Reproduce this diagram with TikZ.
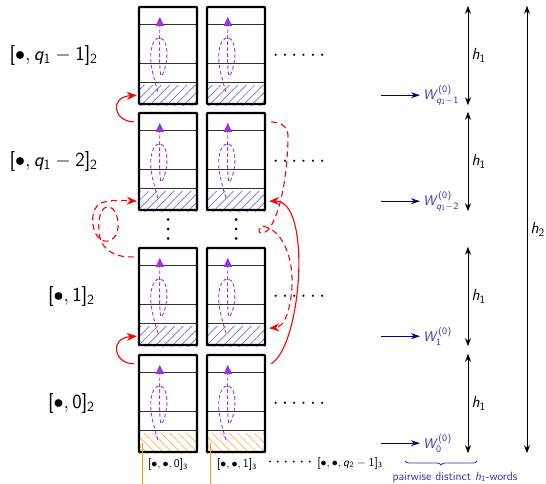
\RequirePackage{fix-cm}
\documentclass[tikz,border=0pt]{standalone}
\usetikzlibrary{arrows.meta,patterns.meta,decorations.pathreplacing,backgrounds,calc}
\DeclareSymbolFont{operators}{OT1}{cmss}{m}{n}
\DeclareMathAlphabet{\mathsfit}{OT1}{cmss}{m}{sl}
\definecolor{hatchblue}{RGB}{110,110,215}
\definecolor{hatchorange}{RGB}{255,175,90}
\definecolor{lineorange}{RGB}{255,150,20}
\definecolor{loopviolet}{RGB}{155,50,235}
\definecolor{warrow}{RGB}{0,0,140}
\definecolor{wtext}{RGB}{50,50,175}
\tikzset{
  cell/.style={draw,line width=2.4pt,minimum width=58pt,minimum height=97pt,inner sep=0pt,rounded corners=0.8pt},
  divider/.style={line width=1pt,black!80},
  bluehatch/.style={pattern={Lines[angle=45,distance=6pt,line width=0.7pt]},pattern color=hatchblue},
  orangehatch/.style={pattern={Lines[angle=-45,distance=6pt,line width=0.7pt]},pattern color=hatchorange},
  redarr/.style={red,line width=1.1pt,-{Stealth[length=10pt,width=8pt]}},
  reddash/.style={redarr,dash pattern=on 6pt off 4pt},
  harr/.style={line width=1pt,{Stealth[length=8pt,width=6pt]}-{Stealth[length=8pt,width=6pt]}},
  warr/.style={warrow,line width=1.2pt,-{Stealth[length=9pt,width=6pt]}},
  rowlab/.style={anchor=east,font=\fontsize{20}{24}\selectfont,inner sep=0pt},
  botlab/.style={font=\fontsize{12}{14}\selectfont,inner sep=0pt},
  wlab/.style={anchor=west,text=wtext,font=\fontsize{14}{16}\selectfont,inner sep=3pt},
  hlab/.style={midway,anchor=west,font=\fontsize{16}{18}\selectfont,inner sep=3pt},
  rowdots/.style={font=\fontsize{21}{25}\selectfont,inner sep=0pt},
  vdot/.style={fill=black},
  orangeline/.style={lineorange,line width=1.1pt},
  loopmark/.pic={\draw[loopviolet,line width=0.9pt,dash pattern=on 3.5pt off 2.5pt,-{Triangle[length=9pt,width=8pt]}]
    (20,86) .. controls (17,75) and (12,60) .. (13,48)
    .. controls (14,36) and (18,32) .. (22,32)
    .. controls (27,32) and (30,42) .. (29,52)
    .. controls (28,62) and (25,70) .. (23,70)
    .. controls (21,60) and (22,30) .. (22,11);}
}
\begin{document}
\begin{tikzpicture}[x=1pt,y=-1pt]
\useasboundingbox (0,0) rectangle (546,484);
% boxes
\foreach \c/\x in {A/168,B/236}{
  \foreach \r/\y in {1/55.5,2/161.5,3/296.5,4/403.5}{
    \node[cell] (\c\r) at (\x,\y) {};
  }
}
\begin{scope}[on background layer]
  \foreach \n in {A1,A2,A3,B1,B2,B3}
    \fill[bluehatch] ([shift={(0,-20)}]\n.south west) rectangle (\n.south east);
  \foreach \n in {A4,B4}
    \fill[orangehatch] ([shift={(0,-20)}]\n.south west) rectangle (\n.south east);
  \foreach \n in {A1,A2,A3,A4,B1,B2,B3,B4}{
    \foreach \d in {19,58,77}
      \draw[divider] ([shift={(0,\d)}]\n.north west) -- ([shift={(0,\d)}]\n.north east);
  }
\end{scope}
\foreach \n in {A1,A2,A3,A4,B1,B2,B3,B4}
  \pic at (\n.north west) {loopmark};
% row labels
\node[rowlab] (L1) at ([xshift=-40pt]A1.west) {$[\bullet, \mathsfit{q}_1 - 1]_2$};
\node[rowlab] (L2) at ([xshift=-40pt]A2.west) {$[\bullet, \mathsfit{q}_1 - 2]_2$};
\node[rowlab] (L3) at ([xshift=-43pt]A3.west) {$[\bullet, 1]_2$};
\node[rowlab] (L4) at ([xshift=-43pt]A4.west) {$[\bullet, 0]_2$};
% dots
\foreach \r in {1,2,3,4}
  \node[rowdots] (D\r) at ([xshift=63pt]B\r.center) {$\cdots\cdots$};
\coordinate (V1) at ($(A2.south)!0.5!(A3.north)$);
\coordinate (V2) at ($(B2.south)!0.5!(B3.north)$);
\foreach \v in {V1,V2}
  \foreach \d in {-9.5,0,9.5}
    \fill[vdot] ([shift={(0,\d)}]\v) circle[radius=1.5pt];
% bottom labels
\node[botlab] (P0) at ([shift={(0,11)}]A4.south) {$[\bullet,\bullet,0]_3$};
\node[botlab] (P1) at ([shift={(1,11)}]B4.south) {$[\bullet,\bullet,1]_3$};
\node[font=\fontsize{18}{20}\selectfont,inner sep=0pt] (PD) at (290,462) {$\cdots\cdots$};
\node[botlab] (Pq) at (350,463) {$[\bullet,\bullet,\mathsfit{q}_2-1]_3$};
% orange lines
\coordinate (bottomedge) at (0,488);
\coordinate (o1) at ([shift={(5,-10)}]A4.south west);
\coordinate (o2) at ([shift={(5,-10)}]B4.south west);
\draw[orangeline] (o1) -- (o1 |- bottomedge);
\draw[orangeline] (o2) -- (o2 |- bottomedge);
% red connectors
\draw[redarr] ([shift={(-4,10)}]A4.north west) .. controls +(-20,0) and +(-28,2) .. ([shift={(-1,-10)}]A3.south west);
\draw[redarr] ([shift={(-4,10)}]A2.north west) .. controls +(-20,0) and +(-28,2) .. ([shift={(-1,-10)}]A1.south west);
\draw[reddash] ([shift={(-4,10)}]A3.north west)
  .. controls (118,258) and (106,252) .. (101,241)
  .. controls (97,230) and (98,208) .. (107,207)
  .. controls (115,206) and (119,218) .. (118,228)
  .. controls (117,240) and (106,245) .. (99,238)
  .. controls (92,232) and (90,214) .. (97,206)
  .. controls (103,200) and (115,200) .. ([shift={(-1,-10)}]A2.south west);
\draw[redarr] ([shift={(5,10)}]B4.north east) .. controls (302,345) and (312,200) .. ([shift={(3,-10)}]B2.south east);
\draw[reddash] ([shift={(5,10)}]B2.north east)
  .. controls (283,123) and (289,127) .. (288,140)
  .. controls (287,170) and (283,205) .. (271,226)
  .. controls (267,233) and (259,236) .. (259,230)
  .. controls (259,224) and (268,226) .. (276,233)
  .. controls (286,243) and (293,262) .. (292,285)
  .. controls (291,308) and (285,327) .. ([shift={(3,-18)}]B3.south east);
% W arrows
\coordinate (wx) at (381,0);
\coordinate (wt) at (420,0);
\foreach \r in {1,2,3,4}
  \coordinate (w\r) at ([yshift=10pt]A\r.south);
\node[wlab] (W1) at (wt |- w1) {$\mathsfit{W}^{(0)}_{\mathsfit{q}_1-1}$};
\node[wlab] (W2) at (wt |- w2) {$\mathsfit{W}^{(0)}_{\mathsfit{q}_1-2}$};
\node[wlab] (W3) at (wt |- w3) {$\mathsfit{W}^{(0)}_{1}$};
\node[wlab] (W4) at (wt |- w4) {$\mathsfit{W}^{(0)}_{0}$};
\foreach \r in {1,2,3,4}
  \draw[warr] (wx |- w\r) -- (W\r.west);
% h arrows
\coordinate (hx) at (468,0);
\coordinate (hx2) at (527,0);
\foreach \r in {1,2,3,4}
  \draw[harr] (hx |- A\r.north) -- (hx |- A\r.south) node[hlab] {$\mathsfit{h}_1$};
\draw[harr] (hx2 |- A1.north) -- (hx2 |- A4.south) node[hlab] {$\mathsfit{h}_2$};
% brace
\coordinate (br1) at (405,461);
\coordinate (br2) at (477,461);
\draw[wtext,line width=0.8pt,decorate,decoration={brace,mirror,amplitude=4pt}] (br1) -- (br2);
\node[text=wtext,font=\sffamily\fontsize{12}{14}\selectfont,inner sep=0pt] (PW) at (455,477) {pairwise distinct $\mathsfit{h}_1$-words};
\end{tikzpicture}
\end{document}
